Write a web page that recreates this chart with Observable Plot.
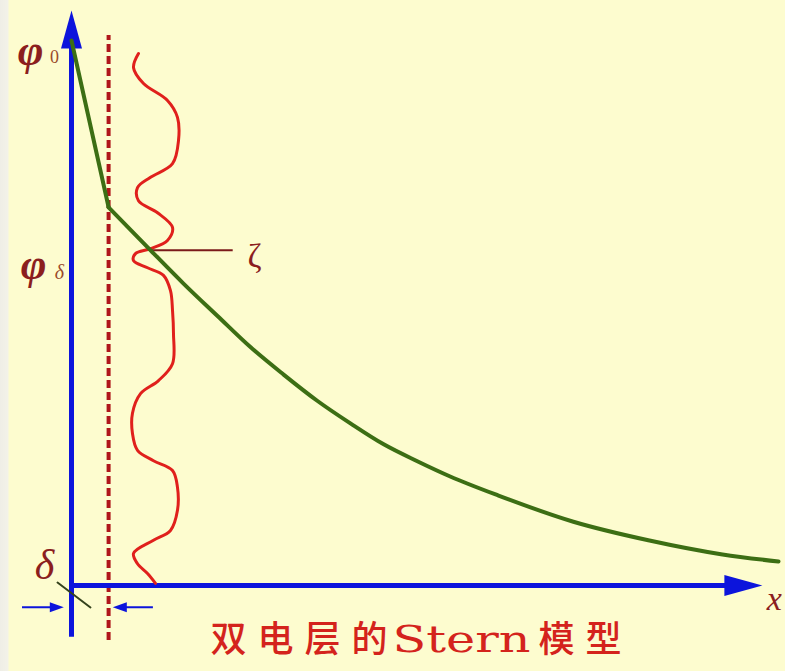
<!DOCTYPE html>
<html><head><meta charset="utf-8">
<script src="https://cdn.jsdelivr.net/npm/d3@7"></script>
<script src="https://cdn.jsdelivr.net/npm/@observablehq/plot@0.6"></script>
<style>
html,body{margin:0;padding:0;background:#fdfccf;}
#chart{width:785px;height:671px;overflow:hidden;}
</style></head><body><div id="chart"></div>
<script>
// Schematic units: x = distance from surface, y = potential (φ0 = 100)
const delta = 5.3;          // Stern layer thickness
const phi0 = 100;
const phiDelta = 69.4;
const zetaX = 11.3;         // slipping plane
const zeta = 61.5;
const zetaLeaderEnd = 23.1;

// potential curve (green): linear inside Stern layer, then diffuse decay
const sternX = [0, 5.3];
const sternY = [100, 69.4];
const diffuseX = [5.3, 11.3, 16.0, 20.9, 25.6, 30.3, 35.1, 39.9, 44.6, 49.4, 54.1, 61.0, 71.7, 82.4, 93.0, 101];
const diffuseY = [69.4, 61.5, 55.4, 49.4, 43.7, 38.7, 33.9, 29.7, 25.9, 22.8, 20.0, 16.5, 11.7, 8.3, 5.7, 4.4];

// slipping plane (red wavy line)
const shearX = [9.57, 8.86, 10.29, 13.71, 15.14, 15.29, 14.43, 11.29, 9.43, 9.57, 12.29, 14.43, 13.71, 11.29, 9.14, 8.86, 10.86, 13.14, 14.14, 14.43, 14.57, 14.43, 12.43, 9.86, 8.71, 8.71, 9.43, 11.71, 14.43, 15.14, 15.14, 14.14, 11.71, 8.86, 9.43, 10.86, 12.0];
const shearY = [97.6, 95.0, 92.1, 89.0, 85.9, 81.7, 77.4, 74.9, 73.0, 70.6, 68.4, 65.7, 63.3, 61.8, 60.9, 59.6, 58.3, 56.9, 54.1, 50.5, 46.2, 40.7, 37.6, 35.2, 31.6, 27.9, 24.8, 22.9, 21.1, 18.0, 13.8, 10.1, 8.3, 5.9, 4.0, 2.2, 0.4];

// axes extents
const xAxisEnd = 98.7;
const yAxisEnd = 105.5;
const yAxisBottom = -9.5;
const dashTop = 100.9;
const dashBottom = -10.1;

// δ indicator
const deltaArrowY = -4.0;
const leftArrowFrom = -7.0, leftArrowTo = -1.1;
const rightArrowFrom = 11.7, rightArrowTo = 5.9;
const tickX = [-2.0, 2.71];
const tickY = [0.55, -4.04];

// title pieces: "双电层的" + "Stern" + "模型"
const titleParts = ["双电层的", "Stern", "模型"];

const stern = sternX.map((x, i) => ({x, y: sternY[i]}));
const diffuse = diffuseX.map((x, i) => ({x, y: diffuseY[i]}));
const shear = shearX.map((x, i) => ({x, y: shearY[i]}));
const tick = tickX.map((x, i) => ({x, y: tickY[i]}));

const bigHead = {draw(ctx) { ctx.moveTo(0, 0); ctx.lineTo(-10.5, 38); ctx.lineTo(10.5, 38); ctx.closePath(); }};
const smallHead = {draw(ctx) { ctx.moveTo(0, 0); ctx.lineTo(-5, 14); ctx.lineTo(5, 14); ctx.closePath(); }};

const blue = "#0c14dc";
const green = "#3c6e14";
const labelColor = "#8b1e1e";
const subColor = "#9a4a2a";
const titleColor = "#d4231c";
const serif = "Liberation Serif, DejaVu Serif, serif";
const cjk = "'Noto Sans CJK SC', sans-serif";

const plot = Plot.plot({
  width: 785, height: 671,
  marginLeft: 71, marginRight: 14, marginTop: 40, marginBottom: 86,
  x: {domain: [0, 100], axis: null},
  y: {domain: [0, 100], axis: null},
  style: {background: "linear-gradient(to right, #efeee6 0px, #f3f2e8 8px, #fdfccf 9px)", overflow: "visible"},
  marks: [
    // dashed Stern plane
    Plot.ruleX([delta], {y1: dashBottom, y2: dashTop, stroke: "#b0161a", strokeWidth: 4, strokeDasharray: "8,4"}),
    // axes
    Plot.ruleX([0], {y1: yAxisBottom, y2: yAxisEnd - 4, stroke: blue, strokeWidth: 5}),
    Plot.ruleY([0], {x1: 0, x2: xAxisEnd - 4, stroke: blue, strokeWidth: 5}),
    Plot.dot([{x: 0, y: yAxisEnd}], {x: "x", y: "y", symbol: bigHead, fill: blue, stroke: "none", rotate: 0}),
    Plot.dot([{x: xAxisEnd, y: 0}], {x: "x", y: "y", symbol: bigHead, fill: blue, stroke: "none", rotate: 90}),
    // shear plane wavy
    Plot.line(shear, {x: "x", y: "y", curve: "catmull-rom", stroke: "#e0201c", strokeWidth: 3}),
    // zeta leader
    Plot.ruleY([zeta], {x1: zetaX, x2: zetaLeaderEnd, stroke: "#7b1a1a", strokeWidth: 2}),
    // potential curve
    Plot.line(stern, {x: "x", y: "y", stroke: green, strokeWidth: 4, strokeLinecap: "round"}),
    Plot.line(diffuse, {x: "x", y: "y", curve: "monotone-x", stroke: green, strokeWidth: 4, strokeLinecap: "round"}),
    // δ indicator
    Plot.line(tick, {x: "x", y: "y", stroke: "#34421c", strokeWidth: 2}),
    Plot.ruleY([deltaArrowY], {x1: leftArrowFrom, x2: leftArrowTo - 1, stroke: blue, strokeWidth: 2}),
    Plot.ruleY([deltaArrowY], {x1: rightArrowFrom, x2: rightArrowTo + 1, stroke: blue, strokeWidth: 2}),
    Plot.dot([{x: leftArrowTo, y: deltaArrowY}], {x: "x", y: "y", symbol: smallHead, fill: blue, stroke: "none", rotate: 90}),
    Plot.dot([{x: rightArrowTo, y: deltaArrowY}], {x: "x", y: "y", symbol: smallHead, fill: blue, stroke: "none", rotate: -90}),
    // labels
    Plot.text(["φ"], {x: 0, y: phi0, text: d => d, dx: -41, dy: 10, fontSize: 44, fontStyle: "italic", fontWeight: "bold", fontFamily: serif, fill: labelColor}),
    Plot.text(["0"], {x: 0, y: phi0, text: d => d, dx: -17, dy: 17, fontSize: 18, fontFamily: serif, fill: subColor}),
    Plot.text(["φ"], {x: 0, y: phiDelta, text: d => d, dx: -38, dy: 58, fontSize: 44, fontStyle: "italic", fontWeight: "bold", fontFamily: serif, fill: labelColor}),
    Plot.text(["δ"], {x: 0, y: phiDelta, text: d => d, dx: -12, dy: 65, fontSize: 20, fontStyle: "italic", fontFamily: serif, fill: subColor}),
    Plot.text(["ζ"], {x: zetaX, y: zeta, text: d => d, dx: 104, dy: 6, fontSize: 34, fontFamily: serif, fill: labelColor}),
    Plot.text(["δ"], {x: 0, y: 0, text: d => d, dx: -27, dy: -20, fontSize: 42, fontStyle: "italic", fontFamily: serif, fill: labelColor}),
    Plot.text(["x"], {x: xAxisEnd, y: 0, text: d => d, dx: 12, dy: 14, fontSize: 34, fontStyle: "italic", fontFamily: serif, fill: labelColor}),
    // title
    Plot.text([titleParts[0]], {frameAnchor: "bottom-left", text: d => d, textAnchor: "start", dx: 139, dy: 66, fontSize: 36, fontWeight: 500, fontFamily: cjk, fill: titleColor}),
    Plot.text([titleParts[1]], {frameAnchor: "bottom-left", text: d => d, textAnchor: "start", dx: 321, dy: 66, fontSize: 37, fontFamily: "DejaVu Serif, serif", fill: titleColor}),
    Plot.text([titleParts[2]], {frameAnchor: "bottom-left", text: d => d, textAnchor: "start", dx: 467, dy: 66, fontSize: 36, fontWeight: 500, fontFamily: cjk, fill: titleColor})
  ]
});
plot.querySelectorAll("text").forEach(t => {
  if (t.textContent === titleParts[0]) t.style.letterSpacing = "11px";
  if (t.textContent === titleParts[2]) t.style.letterSpacing = "11px";
  if (t.textContent === titleParts[1]) { t.setAttribute("textLength", "138"); t.setAttribute("lengthAdjust", "spacingAndGlyphs"); }
});
document.getElementById("chart").appendChild(plot);
</script></body></html>
